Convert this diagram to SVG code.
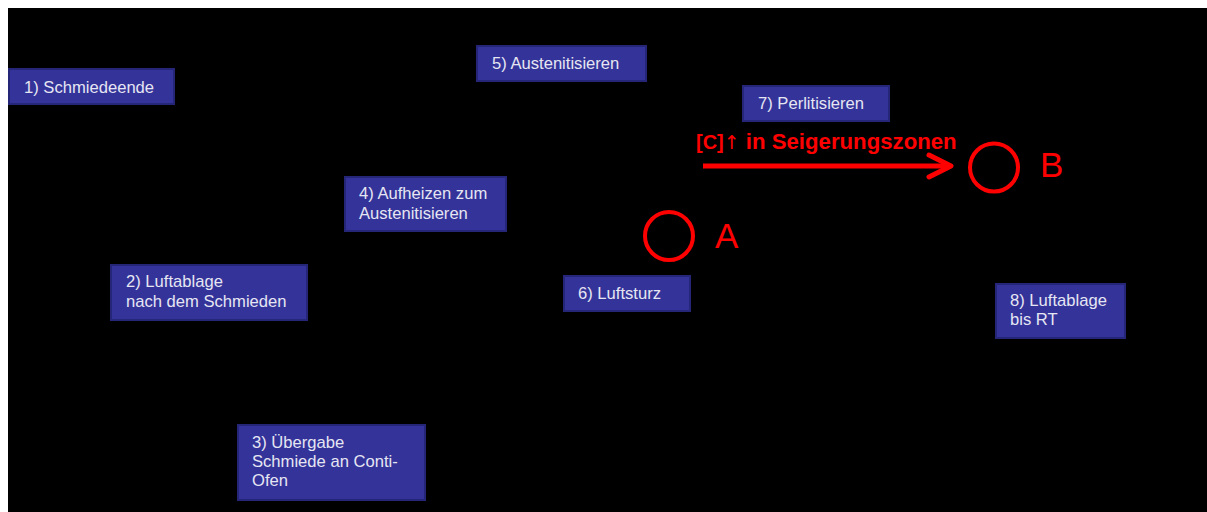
<svg xmlns="http://www.w3.org/2000/svg" width="1207" height="512" viewBox="0 0 1207 512">
<style>
.box{fill:#33339a;stroke:#262678;stroke-width:2}
.t{font-family:"Liberation Sans",Arial,sans-serif;font-size:16.6px;fill:#e6e6f2}
.red{fill:none;stroke:#ff0000;stroke-width:4}
.lbl{font-family:"Liberation Sans",Arial,sans-serif;font-size:35px;fill:#ff0000}
</style>
<rect x="0" y="0" width="1207" height="512" fill="#ffffff"/>
<rect x="8" y="8" width="1199" height="504" fill="#000000"/>
<g id="n1"><rect class="box" x="9" y="69" width="165" height="35"/><text class="t" x="24" y="93">1) Schmiedeende</text></g>
<g id="n2"><rect class="box" x="111" y="265" width="196" height="55"/><text class="t" x="126" y="287">2) Luftablage</text><text class="t" x="126" y="307">nach dem Schmieden</text></g>
<g id="n3"><rect class="box" x="238" y="425" width="187" height="75"/><text class="t" x="252" y="448">3) Übergabe</text><text class="t" x="252" y="467">Schmiede an Conti-</text><text class="t" x="252" y="486">Ofen</text></g>
<g id="n4"><rect class="box" x="345" y="177" width="161" height="54"/><text class="t" x="359" y="199">4) Aufheizen zum</text><text class="t" x="359" y="219">Austenitisieren</text></g>
<g id="n5"><rect class="box" x="477" y="46" width="169" height="35"/><text class="t" x="492" y="69">5) Austenitisieren</text></g>
<g id="n6"><rect class="box" x="564" y="276" width="126" height="35"/><text class="t" x="578" y="299">6) Luftsturz</text></g>
<g id="n7"><rect class="box" x="743" y="86" width="146" height="35"/><text class="t" x="758" y="109">7) Perlitisieren</text></g>
<g id="n8"><rect class="box" x="996" y="284" width="129" height="54"/><text class="t" x="1010" y="306">8) Luftablage</text><text class="t" x="1010" y="325">bis RT</text></g>
<g id="A"><circle class="red" cx="669" cy="236" r="24"/><text class="lbl" x="715" y="248">A</text></g>
<g id="B"><circle class="red" cx="994" cy="167.5" r="24"/><text class="lbl" x="1040" y="177">B</text></g>
<g id="connectors">
<path d="M703 166 H950" stroke="#ff0000" stroke-width="5" fill="none"/>
<path d="M929 155 L951 166 L929 177" stroke="#ff0000" stroke-width="5" fill="none" stroke-linecap="round" stroke-linejoin="round"/>
<text x="696" y="149" font-family="'Liberation Sans',Arial,sans-serif" font-size="22.2" font-weight="bold" fill="#ff0000"><tspan font-size="20">[C]</tspan><tspan font-weight="normal" font-family="'DejaVu Sans',sans-serif" font-size="19">↑</tspan> in Seigerungszonen</text>
</g>
</svg>
